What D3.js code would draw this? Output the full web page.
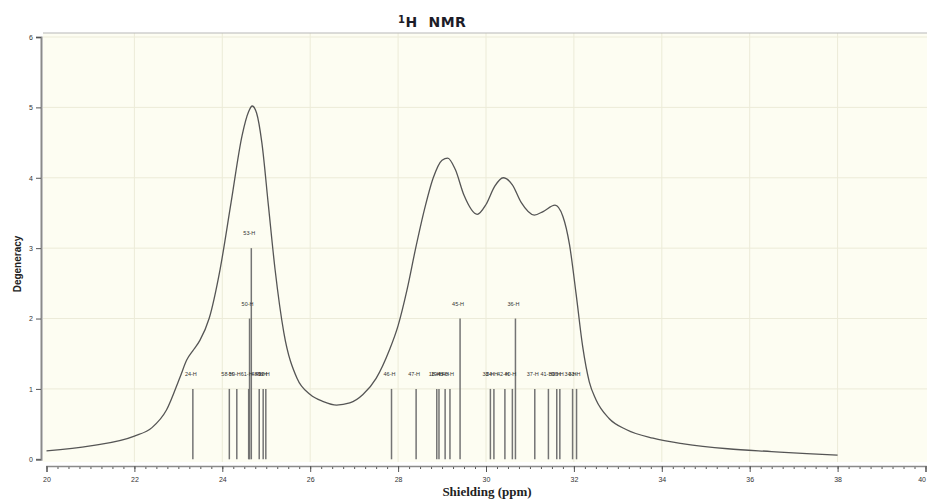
<!DOCTYPE html>
<html>
<head>
<meta charset="utf-8">
<script src="https://cdn.jsdelivr.net/npm/d3@7"></script>
<style>
  html, body { margin: 0; padding: 0; background: #ffffff; }
  svg { display: block; }
  text { font-family: "Liberation Sans", Arial, sans-serif; }
</style>
</head>
<body>
<svg id="chart" width="927" height="499"></svg>
<script>
// Broadened spectrum envelope: shielding (ppm) and degeneracy
const envShift = [20.0, 21.0, 22.0, 22.4, 22.73, 23.04, 23.19, 23.35, 23.49, 23.7, 23.95, 24.2, 24.45, 24.6, 24.68, 24.78, 24.9, 25.05, 25.2, 25.4, 25.7, 26.0, 26.3, 26.6, 26.9, 27.2, 27.5, 27.8, 28.0, 28.2, 28.4, 28.6, 28.8, 29.0, 29.13, 29.3, 29.5, 29.8, 30.0, 30.2, 30.39, 30.6, 30.8, 31.1, 31.3, 31.57, 31.75, 31.9, 32.05, 32.2, 32.35, 32.5, 32.8, 33.2, 33.8, 34.5, 35.5, 36.5, 37.3, 38.0];
const envDeg   = [0.12, 0.19, 0.33, 0.45, 0.70, 1.17, 1.41, 1.56, 1.69, 2.00, 2.70, 3.65, 4.60, 4.94, 5.02, 4.92, 4.50, 3.60, 2.70, 1.80, 1.15, 0.92, 0.82, 0.77, 0.80, 0.92, 1.15, 1.55, 1.90, 2.40, 3.00, 3.55, 4.00, 4.25, 4.28, 4.12, 3.75, 3.48, 3.62, 3.88, 4.00, 3.90, 3.65, 3.47, 3.52, 3.61, 3.45, 3.05, 2.35, 1.60, 1.10, 0.85, 0.58, 0.42, 0.30, 0.22, 0.15, 0.11, 0.08, 0.06];

// Individual proton lines: shift, degeneracy, atom label
const lineShift = [23.33, 24.16, 24.33, 24.60, 24.62, 24.66, 24.84, 24.93, 24.99, 27.85, 28.41, 28.88, 28.93, 29.07, 29.18, 29.41, 30.10, 30.18, 30.43, 30.60, 30.67, 31.11, 31.42, 31.61, 31.68, 31.97, 32.06];
const lineDeg   = [1, 1, 1, 1, 2, 3, 1, 1, 1, 1, 1, 1, 1, 1, 1, 2, 1, 1, 1, 1, 2, 1, 1, 1, 1, 1, 1];
const lineLabel = ["24-H", "58-H", "59-H", "61-H", "50-H", "53-H", "48-H", "49-H", "52-H", "46-H", "47-H", "18-H", "19-H", "43-H", "40-H", "45-H", "38-H", "24-H", "42-H", "40-H", "36-H", "37-H", "41-H", "39-H", "35-H", "34-H", "33-H"];

const xTicks = [20, 22, 24, 26, 28, 30, 32, 34, 36, 38, 40];
const yTicks = [0, 1, 2, 3, 4, 5, 6];

const svg = d3.select("#chart");
const plot = { left: 43, right: 927, top: 33, bottom: 462 };

const x = d3.scaleLinear().domain([20, 40]).range([46.5, 925.5]);
const y = d3.scaleLinear().domain([0, 6]).range([459.3, 37]);

// Plot background
svg.append("rect")
  .attr("x", plot.left).attr("y", plot.top)
  .attr("width", plot.right - plot.left).attr("height", plot.bottom - plot.top)
  .attr("fill", "#fdfdf2");

// Grid
const grid = svg.append("g").attr("stroke", "#ecebd8").attr("stroke-width", 1);
grid.selectAll("line.v").data(xTicks.slice(1, -1)).join("line")
  .attr("x1", d => x(d)).attr("x2", d => x(d))
  .attr("y1", plot.top).attr("y2", plot.bottom);
grid.selectAll("line.h").data(yTicks.slice(1)).join("line")
  .attr("x1", plot.left).attr("x2", plot.right)
  .attr("y1", d => y(d)).attr("y2", d => y(d));

// Top frame edge
svg.append("line")
  .attr("x1", plot.left).attr("x2", plot.right)
  .attr("y1", plot.top).attr("y2", plot.top)
  .attr("stroke", "#b8b8b8").attr("stroke-width", 1.2);

// Stick spectrum
const sticks = lineShift.map((s, i) => ({ s, d: lineDeg[i], label: lineLabel[i] }));
svg.append("g").selectAll("line").data(sticks).join("line")
  .attr("x1", d => x(d.s)).attr("x2", d => x(d.s))
  .attr("y1", y(0)).attr("y2", d => y(d.d))
  .attr("stroke", "#747474").attr("stroke-width", 1.5);

// Stick labels: unit lines share a row, taller lines carry their label above the tip
svg.append("g").selectAll("text").data(sticks).join("text")
  .attr("x", d => x(d.s) - 2)
  .attr("y", d => d.d === 1 ? y(1.18) : y(d.d + 0.18))
  .attr("text-anchor", "middle")
  .attr("font-size", 5.5)
  .attr("fill", "#333")
  .text(d => d.label);

// Envelope curve
const env = envShift.map((s, i) => [s, envDeg[i]]);
svg.append("path")
  .datum(env)
  .attr("fill", "none")
  .attr("stroke", "#555")
  .attr("stroke-width", 1.3)
  .attr("d", d3.line().x(d => x(d[0])).y(d => y(d[1])).curve(d3.curveMonotoneX));

// Y axis
const yAxis = svg.append("g").attr("transform", "translate(41,0)")
  .call(d3.axisLeft(y).tickValues(yTicks).tickSize(5).tickPadding(3).tickFormat(d3.format("d")));
yAxis.select(".domain").attr("stroke", "#8a8a8a").attr("stroke-width", 2);
yAxis.selectAll(".tick line").attr("stroke", "#555");
yAxis.selectAll(".tick text").attr("font-size", 7).attr("fill", "#333");

// X axis with minor ticks
const xAxisY = 466;
const xMinor = svg.append("g").attr("transform", `translate(0,${xAxisY})`)
  .call(d3.axisBottom(x).tickValues(d3.range(20, 40.01, 0.25)).tickSize(3).tickFormat(""));
xMinor.select(".domain").remove();
xMinor.selectAll(".tick line").attr("stroke", "#555");
const xAxis = svg.append("g").attr("transform", `translate(0,${xAxisY})`)
  .call(d3.axisBottom(x).tickValues(xTicks).tickSize(6).tickPadding(5).tickFormat(d3.format("d")));
xAxis.select(".domain").attr("stroke", "#8a8a8a").attr("stroke-width", 1.5);
xAxis.selectAll(".tick line").attr("stroke", "#555");
xAxis.selectAll(".tick text").attr("font-size", 7).attr("fill", "#333");
// The last label sits right at the page edge
xAxis.selectAll(".tick text").filter(d => d === 40).attr("text-anchor", "end").attr("dx", 0);

// Titles
const title = svg.append("text")
  .attr("x", 398).attr("y", 27)
  .attr("xml:space", "preserve")
  .style("white-space", "pre")
  .style("font-family", "'DejaVu Sans', sans-serif")
  .attr("font-size", 14).attr("font-weight", "bold").attr("fill", "#1c1c28")
  .attr("letter-spacing", 0.5);
title.append("tspan").attr("font-size", 10).attr("dy", -4).text("1");
title.append("tspan").attr("dy", 4).text("H  NMR");

svg.append("text")
  .attr("x", 487).attr("y", 496)
  .attr("text-anchor", "middle")
  .style("font-family", "'Liberation Serif', serif")
  .attr("font-size", 13).attr("font-weight", "bold").attr("fill", "#222")
  .text("Shielding (ppm)");

svg.append("text")
  .attr("transform", "translate(21,264) rotate(-90)")
  .attr("text-anchor", "middle")
  .attr("font-size", 10).attr("font-weight", "bold").attr("fill", "#222")
  .text("Degeneracy");
</script>
</body>
</html>
